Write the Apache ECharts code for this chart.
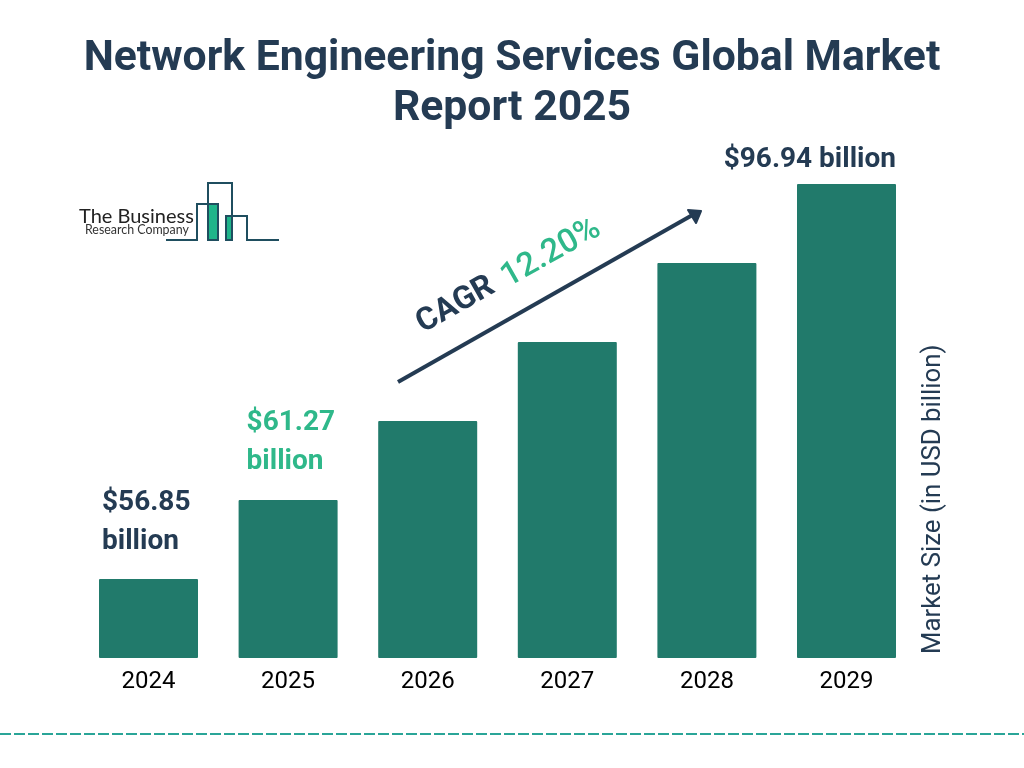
<!DOCTYPE html>
<html>
<head>
<meta charset="utf-8">
<style>
  html, body { margin: 0; padding: 0; background: #fff; }
  #chart { width: 1024px; height: 768px; }
</style>
<script src="https://cdn.jsdelivr.net/npm/echarts@6/dist/echarts.min.js"></script>
</head>
<body>
<div id="chart"></div>
<script>
const years = ['2024', '2025', '2026', '2027', '2028', '2029'];
// The bars are drawn as even steps in the picture, they are not to scale with the labels
const barLevels = [1, 2, 3, 4, 5, 6];
const labelTexts = ['$56.85\nbillion', '$61.27\nbillion', '', '', '', '$96.94 billion'];
const labelColors = ['#243b53', '#2fb88a', '#243b53', '#243b53', '#243b53', '#243b53'];
const labelOffsets = [[3, -96], [8, -97], [0, 0], [0, 0], [0, 0], [99, -24]];

const navy = '#243b53';
const green = '#2fb88a';
const teal = '#217a6b';
const logoDark = '#1f4e5f';

const chart = echarts.init(document.getElementById('chart'));

const option = {
    animation: false,
    backgroundColor: '#fff',
    textStyle: { fontFamily: 'Roboto' },
    title: {
        text: 'Network Engineering Services Global Market\nReport 2025',
        left: 'center',
        top: 29,
        textStyle: {
            fontFamily: 'Roboto',
            fontSize: 42.7,
            fontWeight: 'bold',
            lineHeight: 50,
            color: navy,
            align: 'center'
        }
    },
    grid: { left: 78.7, right: 107.7, top: 184, bottom: 110 },
    xAxis: {
        type: 'category',
        data: years,
        axisLine: { show: false },
        axisTick: { show: false },
        axisLabel: { fontFamily: 'Roboto', fontSize: 24, color: '#000', margin: 12 }
    },
    yAxis: {
        type: 'value',
        min: 0,
        max: 6,
        position: 'right',
        offset: 17,
        splitLine: { show: false },
        axisLine: { show: false },
        axisTick: { show: false },
        axisLabel: { show: false },
        name: 'Market Size (in USD billion)',
        nameLocation: 'start',
        nameRotate: 90,
        nameGap: -4,
        nameTextStyle: { fontFamily: 'Roboto', fontSize: 25.8, color: navy, align: 'left', verticalAlign: 'middle' }
    },
    series: [{
        type: 'bar',
        barWidth: 99,
        itemStyle: { color: teal, borderRadius: 1 },
        data: barLevels.map((level, i) => ({
            value: level,
            label: {
                show: labelTexts[i] !== '',
                formatter: labelTexts[i],
                position: labelOffsets[i],
                align: i === 5 ? 'right' : 'left',
                verticalAlign: i === 5 ? 'middle' : 'top',
                fontFamily: 'Roboto',
                fontSize: 28,
                fontWeight: 'bold',
                lineHeight: 39,
                color: labelColors[i]
            }
        }))
    }],
    graphic: [
        // bottom dashed rule
        {
            type: 'line',
            shape: { x1: 0, y1: 734, x2: 1024, y2: 734 },
            style: { stroke: '#2aa598', lineWidth: 2, lineDash: [11, 3] }
        },
        // growth arrow
        {
            type: 'line',
            shape: { x1: 398, y1: 382, x2: 696, y2: 213 },
            style: { stroke: navy, lineWidth: 4 }
        },
        {
            type: 'polygon',
            shape: { points: [[701, 211], [688, 210], [696, 223]] },
            style: { fill: navy, stroke: navy, lineWidth: 2, lineJoin: 'round' }
        },
        {
            type: 'text',
            x: 419,
            y: 326,
            rotation: Math.PI * 29.5 / 180,
            style: {
                text: 'CAGR',
                fontFamily: 'Roboto',
                fontSize: 32,
                fontWeight: 'bold',
                fill: navy,
                align: 'left',
                verticalAlign: 'middle'
            }
        },
        {
            type: 'text',
            x: 504,
            y: 280,
            rotation: Math.PI * 29.5 / 180,
            style: {
                text: '12.20%',
                fontFamily: 'Roboto',
                fontSize: 33,
                fontWeight: 500,
                fill: green,
                align: 'left',
                verticalAlign: 'middle'
            }
        },
        // company logo
        { type: 'rect', shape: { x: 208, y: 204, width: 10, height: 36 }, style: { fill: '#1fb58a' } },
        { type: 'rect', shape: { x: 227, y: 216, width: 5, height: 24 }, style: { fill: '#1fb58a' } },
        {
            type: 'polyline',
            shape: { points: [[166, 240], [197, 240], [197, 204], [218, 204], [218, 240], [208, 240], [208, 183], [232, 183], [232, 240], [226, 240], [226, 216], [247, 216], [247, 240], [279, 240]] },
            style: { stroke: logoDark, lineWidth: 2, fill: null }
        },
        {
            type: 'text',
            x: 79,
            y: 217,
            style: { text: 'The Business', fontFamily: 'Lato', fontSize: 20, fill: '#222', align: 'left', verticalAlign: 'middle' }
        },
        {
            type: 'text',
            x: 85,
            y: 230,
            style: { text: 'Research Company', fontFamily: 'Lato', fontSize: 12.4, fill: '#333', align: 'left', verticalAlign: 'middle' }
        }
    ]
};
chart.setOption(option);

window.addEventListener('resize', () => {
    chart.resize();
}, true);
</script>
</body>
</html>
